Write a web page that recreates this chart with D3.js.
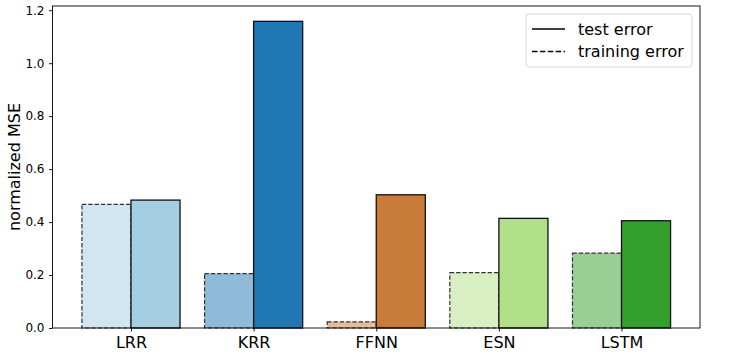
<!DOCTYPE html>
<html>
<head>
    <script src="https://d3js.org/d3.v7.min.js"></script>
    <style>
        body { margin: 0; background: white; }
        svg text { font-family: 'DejaVu Sans', sans-serif; fill: #000; }
    </style>
</head>
<body>
    <div id="chart"></div>
    <script>
        // Data
        const models = ["LRR", "KRR", "FFNN", "ESN", "LSTM"];
        const trainingError = [0.467, 0.2055, 0.023, 0.209, 0.283];
        const testError = [0.483, 1.158, 0.503, 0.414, 0.405];
        const barColors = ["#a6cee3", "#1f77b4", "#c97c3a", "#b2df8a", "#33a02c"];
        const yTicks = [0.0, 0.2, 0.4, 0.6, 0.8, 1.0, 1.2];
        const legendItems = [
            { label: "test error", dash: null },
            { label: "training error", dash: "5.5,2.4" }
        ];

        const width = 747, height = 355;
        const margin = { top: 6, right: 47, bottom: 27, left: 52.5 };
        const innerW = width - margin.left - margin.right;
        const innerH = height - margin.top - margin.bottom;

        const svg = d3.select("#chart").append("svg")
            .attr("width", width)
            .attr("height", height);

        const g = svg.append("g")
            .attr("transform", `translate(${margin.left},${margin.top})`);

        // matplotlib-like limits: bars from -0.4 to 4.4, 5% margin
        const x = d3.scaleLinear()
            .domain([-0.64, models.length - 1 + 0.64])
            .range([0, innerW]);
        const yMax = d3.max(testError.concat(trainingError)) * 1.05;
        const y = d3.scaleLinear()
            .domain([0, yMax])
            .range([innerH, 0]);

        const barW = x(0.4) - x(0);

        // training bars (left, half-transparent, dashed edge)
        g.selectAll(".train")
            .data(models)
            .enter()
            .append("rect")
            .attr("class", "train")
            .attr("x", (d, i) => x(i - 0.4))
            .attr("y", (d, i) => y(trainingError[i]))
            .attr("width", barW)
            .attr("height", (d, i) => innerH - y(trainingError[i]))
            .attr("fill", (d, i) => barColors[i])
            .attr("fill-opacity", 0.5)
            .attr("stroke", "#333")
            .attr("stroke-width", 1.2)
            .attr("stroke-dasharray", "4.4,1.9");

        // test bars (right, solid edge)
        g.selectAll(".test")
            .data(models)
            .enter()
            .append("rect")
            .attr("class", "test")
            .attr("x", (d, i) => x(i))
            .attr("y", (d, i) => y(testError[i]))
            .attr("width", barW)
            .attr("height", (d, i) => innerH - y(testError[i]))
            .attr("fill", (d, i) => barColors[i])
            .attr("stroke", "#111")
            .attr("stroke-width", 1.3);

        // axes frame
        g.append("rect")
            .attr("width", innerW)
            .attr("height", innerH)
            .attr("fill", "none")
            .attr("stroke", "#000")
            .attr("stroke-width", 0.9);

        const yAxis = g.append("g")
            .call(d3.axisLeft(y).tickValues(yTicks).tickFormat(d3.format(".1f")).tickSize(3.5).tickPadding(4.5));
        yAxis.select(".domain").remove();
        yAxis.selectAll("text").style("font-size", "12px");
        yAxis.selectAll("line").attr("stroke-width", 0.9);

        const xAxis = g.append("g")
            .attr("transform", `translate(0,${innerH})`)
            .call(d3.axisBottom(x).tickValues(d3.range(models.length)).tickFormat(i => models[i]).tickSize(3.5).tickPadding(5.5));
        xAxis.select(".domain").remove();
        xAxis.selectAll("text").style("font-size", "16px");
        xAxis.selectAll("line").attr("stroke-width", 0.9);

        // y label
        svg.append("text")
            .attr("transform", `translate(19.5,${margin.top + innerH / 2}) rotate(-90)`)
            .attr("text-anchor", "middle")
            .style("font-size", "16px")
            .text("normalized MSE");

        // legend
        const legend = svg.append("g").attr("transform", "translate(526,14)");
        legend.append("rect")
            .attr("width", 166)
            .attr("height", 53)
            .attr("rx", 3)
            .attr("fill", "white")
            .attr("fill-opacity", 0.8)
            .attr("stroke", "#d6d6d6");
        legendItems.forEach((item, i) => {
            const ly = 15 + i * 22.5;
            legend.append("line")
                .attr("x1", 6).attr("x2", 39)
                .attr("y1", ly).attr("y2", ly)
                .attr("stroke", "#000")
                .attr("stroke-width", 1.5)
                .attr("stroke-dasharray", item.dash);
            legend.append("text")
                .attr("x", 52)
                .attr("y", ly + 5.5)
                .style("font-size", "16px")
                .text(item.label);
        });
    </script>
</body>
</html>
